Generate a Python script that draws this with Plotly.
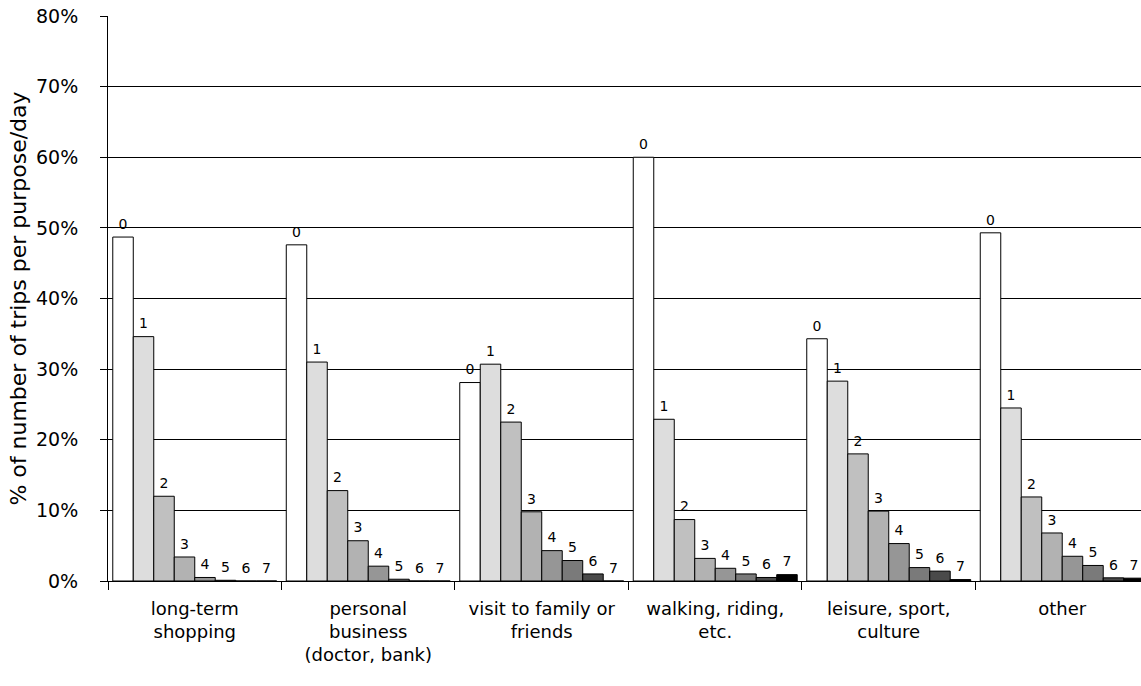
import plotly.graph_objects as go

purposes = ["long-term<br>shopping", "personal<br>business<br>(doctor, bank)",
            "visit to family or<br>friends", "walking, riding,<br>etc.",
            "leisure, sport,<br>culture", "other"]

# share of trips per purpose/day by number of trips (series 0..7), in %
n_trips = ["0", "1", "2", "3", "4", "5", "6", "7"]
trips_0 = [48.7, 47.6, 28.1, 60.0, 34.3, 49.3]
trips_1 = [34.6, 31.0, 30.7, 22.9, 28.3, 24.5]
trips_2 = [12.0, 12.8, 22.5, 8.7, 18.0, 11.9]
trips_3 = [3.4, 5.7, 9.8, 3.2, 9.9, 6.8]
trips_4 = [0.5, 2.1, 4.3, 1.8, 5.3, 3.5]
trips_5 = [0.1, 0.25, 2.9, 1.0, 1.9, 2.2]
trips_6 = [0.0, 0.0, 1.0, 0.5, 1.4, 0.45]
trips_7 = [0.0, 0.0, 0.0, 0.9, 0.2, 0.4]

series = [trips_0, trips_1, trips_2, trips_3, trips_4, trips_5, trips_6, trips_7]
colors = ["#FFFFFF", "#DDDDDD", "#C0C0C0", "#B2B2B2",
          "#969696", "#7A7A7A", "#4A4A4A", "#000000"]

FONT = "DejaVu Sans, Arial"
GAP = 0.055

fig = go.Figure()
for name, vals, col in zip(n_trips, series, colors):
    y = [v / 100 for v in vals]
    fig.add_trace(go.Bar(
        x=purposes, y=y, name=name, offsetgroup=name,
        marker=dict(color=col, line=dict(color="black", width=1)),
    ))
    # series label above each bar (invisible marker just gives the text some room)
    fig.add_trace(go.Scatter(
        x=purposes, y=y, name=name, offsetgroup=name,
        mode="markers+text", text=[name] * len(vals), textposition="top center",
        marker=dict(size=6, opacity=0),
        textfont=dict(family=FONT, size=14, color="black"),
        cliponaxis=False, hoverinfo="skip",
    ))

fig.update_layout(
    width=1141, height=686,
    barmode="group", bargap=GAP, bargroupgap=0,
    scattermode="group", scattergap=GAP,
    showlegend=False,
    plot_bgcolor="white", paper_bgcolor="white",
    margin=dict(l=108, r=0, t=16, b=105),
    font=dict(family=FONT, size=18, color="black"),
)
fig.update_xaxes(
    type="category", range=[-0.5, 5.454],
    showline=True, linecolor="black", linewidth=1,
    ticks="outside", tickson="boundaries", ticklen=8, tickcolor="black",
    showgrid=False, tickfont=dict(size=18), ticklabelstandoff=11,
)
fig.update_yaxes(
    range=[0, 0.8], dtick=0.1, tickformat=".0%",
    showline=True, linecolor="black", linewidth=1,
    ticks="outside", ticklen=7, tickcolor="black",
    showgrid=True, gridcolor="black", gridwidth=1,
    zeroline=False, tickfont=dict(size=19), ticklabelstandoff=18,
    title=dict(text="% of number of trips per purpose/day", font=dict(size=22), standoff=3),
)

fig.write_html("out.html", config={"displayModeBar": False},
               post_script="document.body.style.margin='0';")
